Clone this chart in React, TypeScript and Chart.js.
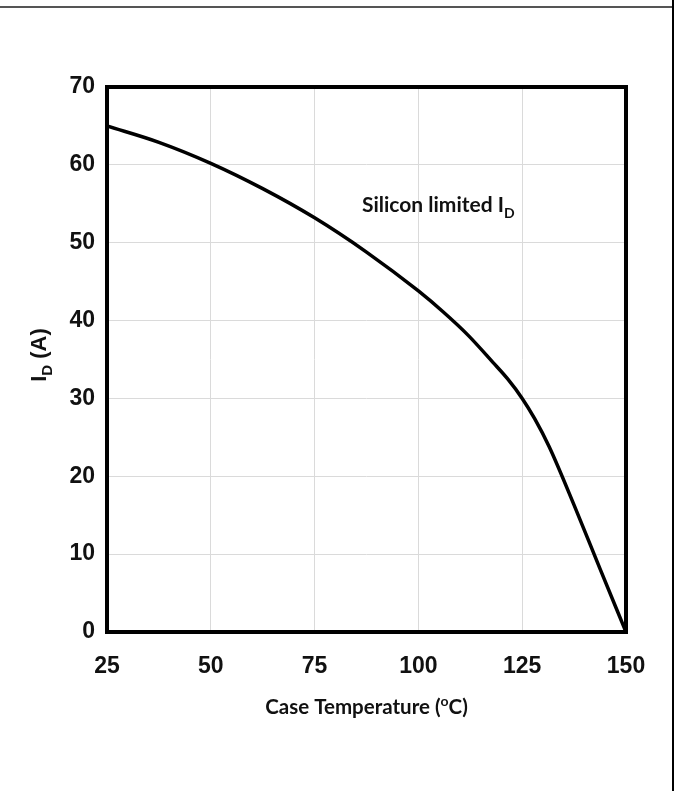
import React, { useEffect, useRef } from "react";
import { Chart, registerables } from "chart.js";

Chart.register(...registerables);

// Case temperature (°C) and drain current I_D (A)
const caseTemps = [25, 37.5, 50, 62.5, 75, 87.5, 100, 106, 112, 118, 121.5, 125, 128, 131.5, 137.5, 143.75, 150];
const drainCurrent = [65, 62.9, 60.2, 56.95, 53.2, 48.8, 43.8, 41.1, 38.1, 34.6, 32.5, 30.0, 27.4, 23.8, 16.3, 8.1, 0];

const xTicks = [25, 50, 75, 100, 125, 150];
const yTicks = [0, 10, 20, 30, 40, 50, 60, 70];

const xTitleParts = [{ t: "Case Temperature (" }, { t: "o", sup: true }, { t: "C)" }];
const yTitleParts = [{ t: "I" }, { t: "D", sub: true }, { t: " (A)" }];
const noteParts = [{ t: "Silicon limited I" }, { t: "D", sub: true }];
const notePos = { x: 86.4, y: 53.9 };

type Part = { t: string; sub?: boolean; sup?: boolean };

function drawRich(ctx: CanvasRenderingContext2D, parts: Part[], x: number, y: number, font: (s: number) => string, size: number, align: "left" | "center") {
  const small = Math.round(size * 0.68);
  const widths = parts.map((p) => {
    ctx.font = font(p.sub || p.sup ? small : size);
    return ctx.measureText(p.t).width;
  });
  const total = widths.reduce((a, b) => a + b, 0);
  let cx = align === "center" ? x - total / 2 : x;
  ctx.textAlign = "left";
  ctx.textBaseline = "alphabetic";
  parts.forEach((p, i) => {
    ctx.font = font(p.sub || p.sup ? small : size);
    let dy = 0;
    if (p.sub) dy = size * 0.28;
    if (p.sup) dy = -size * 0.38;
    ctx.fillText(p.t, cx, y + dy);
    cx += widths[i];
  });
}

const decorPlugin = {
  id: "decor",
  afterDraw(chart: any) {
    const { ctx, chartArea: ca, scales } = chart;
    ctx.save();
    // outer frame lines
    ctx.fillStyle = "#555";
    ctx.fillRect(0, 6, 674, 2);
    ctx.fillStyle = "#000";
    ctx.fillRect(672, 0, 2, 791);
    // plot border
    ctx.strokeStyle = "#000";
    ctx.lineWidth = 4;
    ctx.strokeRect(ca.left, ca.top, ca.right - ca.left, ca.bottom - ca.top);
    // annotation
    ctx.fillStyle = "#111";
    const nx = scales.x.getPixelForValue(notePos.x);
    const ny = scales.y.getPixelForValue(notePos.y);
    drawRich(ctx, noteParts, nx, ny, (s) => `bold ${s}px Lato`, 21, "left");
    // x title
    drawRich(ctx, xTitleParts, (ca.left + ca.right) / 2, 714, (s) => `bold ${s}px Lato`, 20.5, "center");
    // y title
    ctx.translate(46, 355);
    ctx.rotate(-Math.PI / 2);
    drawRich(ctx, yTitleParts, 0, 0, (s) => `bold ${s}px "Liberation Sans", Arial`, 22, "center");
    ctx.restore();
  },
};

export default function App() {
  const ref = useRef<HTMLCanvasElement | null>(null);
  useEffect(() => {
    if (!ref.current) return;
    const tickFont = { family: '"Liberation Sans", Arial', size: 23, weight: "bold" as const };
    const chart = new Chart(ref.current, {
      type: "line",
      data: {
        datasets: [
          {
            data: caseTemps.map((t, i) => ({ x: t, y: drainCurrent[i] })),
            borderColor: "#000",
            borderWidth: 3.5,
            pointRadius: 0,
            cubicInterpolationMode: "monotone",
            fill: false,
          },
        ],
      },
      options: {
        animation: false,
        responsive: false,
        devicePixelRatio: 1,
        layout: { padding: { top: 87, right: 53, left: 0, bottom: 0 } },
        plugins: { legend: { display: false }, tooltip: { enabled: false }, title: { display: false } },
        scales: {
          x: {
            type: "linear",
            min: 25,
            max: 150,
            afterBuildTicks: (axis: any) => {
              axis.ticks = xTicks.map((v) => ({ value: v }));
            },
            afterFit: (axis: any) => {
              axis.height = 159;
            },
            grid: { color: "#dadada", lineWidth: 1, drawTicks: false },
            border: { display: false },
            ticks: { font: tickFont, color: "#111", padding: 21, maxRotation: 0 },
          },
          y: {
            min: 0,
            max: 70,
            afterBuildTicks: (axis: any) => {
              axis.ticks = yTicks.map((v) => ({ value: v }));
            },
            afterFit: (axis: any) => {
              axis.width = 107;
            },
            grid: { color: "#dadada", lineWidth: 1, drawTicks: false },
            border: { display: false },
            ticks: { font: tickFont, color: "#111", padding: 12 },
          },
        },
      },
      plugins: [decorPlugin],
    });
    return () => chart.destroy();
  }, []);
  return (
    <div style={{ position: "absolute", left: 0, top: 0, width: 679, height: 791, background: "#fff" }}>
      <canvas ref={ref} width={679} height={791} style={{ display: "block" }} />
    </div>
  );
}
